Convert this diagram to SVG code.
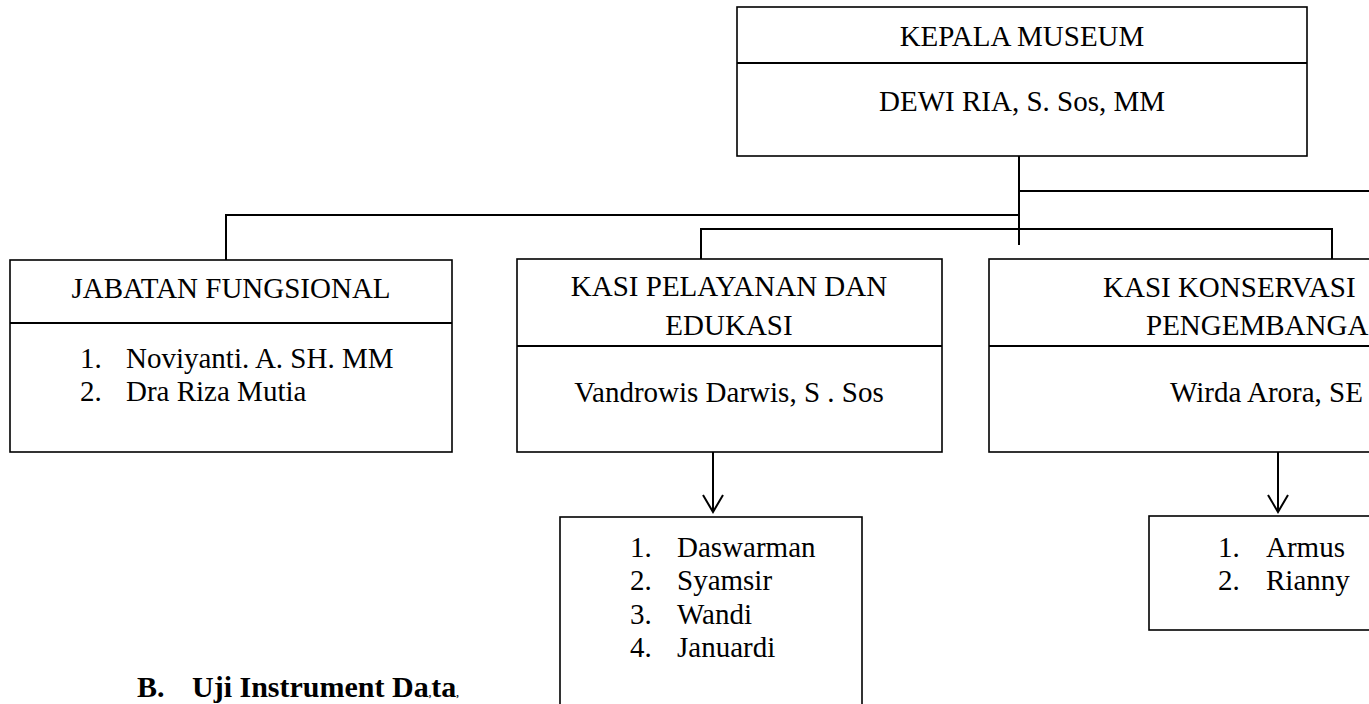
<svg xmlns="http://www.w3.org/2000/svg" width="1369" height="704" viewBox="0 0 1369 704">
<style>
.bg{fill:#fff}
.box{fill:#fff;stroke:#000;stroke-width:1.6}
.div{stroke:#000;stroke-width:2.2}
.con{fill:none;stroke:#000;stroke-width:2}
text{font-family:"Liberation Serif","Times New Roman",serif;font-size:29px;fill:#000}
.c{text-anchor:middle}
.b{font-weight:bold;font-size:30px}
</style>
<rect class="bg" x="0" y="0" width="1369" height="704"/>
<g id="connectors">
<path class="con" d="M1019 145 V245"/>
<path class="con" d="M1019 191 H1370"/>
<path class="con" d="M226 261 V215 H1019"/>
<path class="con" d="M701 259 V229 H1332 V259"/>
<path class="con" d="M713 434 V512"/>
<path class="con" d="M703 495 L713 512 L723 495"/>
<path class="con" d="M1278 434 V512"/>
<path class="con" d="M1268 495 L1278 512 L1288 495"/>
</g>
<g id="kepala">
<rect class="box" x="737" y="7" width="570" height="149"/>
<line class="div" x1="737" y1="63" x2="1307" y2="63"/>
<text class="c" x="1022" y="46">KEPALA MUSEUM</text>
<text class="c" x="1022" y="111">DEWI RIA, S. Sos, MM</text>
</g>
<g id="jabatan">
<rect class="box" x="10" y="260" width="442" height="192"/>
<line class="div" x1="10" y1="323" x2="452" y2="323"/>
<text class="c" x="231" y="298">JABATAN FUNGSIONAL</text>
<text x="80" y="368">1.</text><text x="126" y="368">Noviyanti. A. SH. MM</text>
<text x="80" y="401">2.</text><text x="126" y="401">Dra Riza Mutia</text>
</g>
<g id="pelayanan">
<rect class="box" x="517" y="259" width="425" height="193"/>
<line class="div" x1="517" y1="346" x2="942" y2="346"/>
<text class="c" x="729" y="296">KASI PELAYANAN DAN</text>
<text class="c" x="729" y="335">EDUKASI</text>
<text class="c" x="729" y="402">Vandrowis Darwis, S . Sos</text>
</g>
<g id="konservasi">
<rect class="box" x="989" y="259" width="400" height="193"/>
<line class="div" x1="989" y1="346" x2="1369" y2="346"/>
<text x="1103" y="297">KASI KONSERVASI</text>
<text x="1146" y="335">PENGEMBANGA</text>
<text x="1170" y="402">Wirda Arora, SE</text>
</g>
<g id="staf-pelayanan">
<rect class="box" x="560" y="517" width="302" height="200"/>
<text x="630" y="557">1.</text><text x="677" y="557">Daswarman</text>
<text x="630" y="590">2.</text><text x="677" y="590">Syamsir</text>
<text x="630" y="624">3.</text><text x="677" y="624">Wandi</text>
<text x="630" y="657">4.</text><text x="677" y="657">Januardi</text>
</g>
<g id="staf-konservasi">
<rect class="box" x="1149" y="516" width="240" height="114"/>
<text x="1218" y="557">1.</text><text x="1266" y="557">Armus</text>
<text x="1218" y="590">2.</text><text x="1266" y="590">Rianny</text>
</g>
<g id="heading">
<text class="b" x="137" y="697">B.</text>
<text class="b" x="192" y="697">Uji Instrument Da<tspan font-size="10">,</tspan>ta<tspan font-size="10">,</tspan></text>
</g>
</svg>
